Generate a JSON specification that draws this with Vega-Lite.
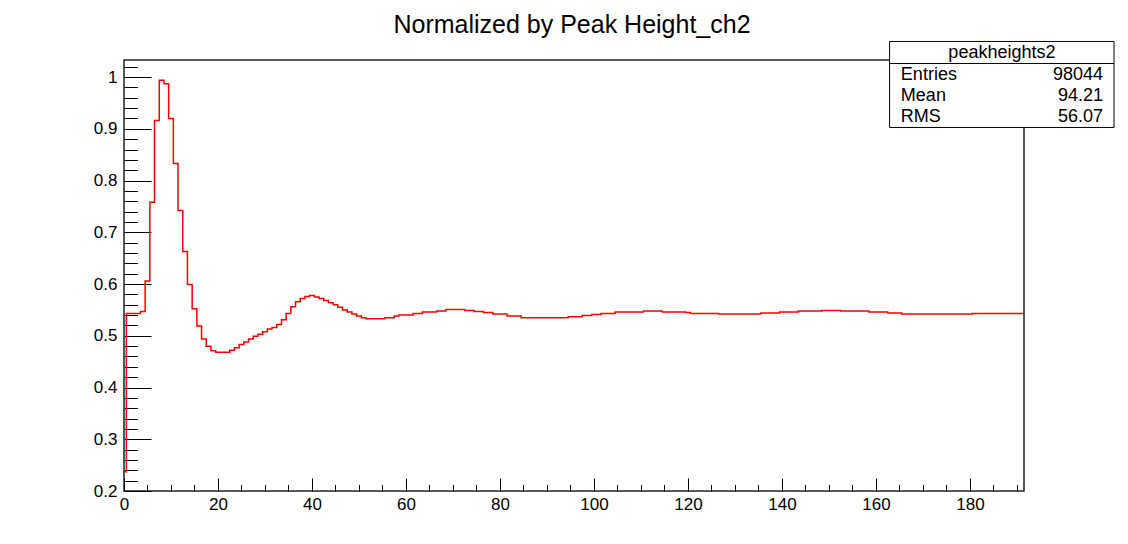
{
  "$schema": "https://vega.github.io/schema/vega-lite/v6.json",
  "width": 900,
  "height": 431,
  "autosize": {"type": "none"},
  "padding": {"left": 124, "top": 60, "right": 104, "bottom": 53},
  "background": "white",
  "config": {
    "view": {"stroke": "#222222", "strokeWidth": 1.5},
    "font": "Liberation Sans",
    "axis": {"grid": false, "domain": false, "labelFlush": false, "labelOverlap": false, "tickColor": "#000000", "tickWidth": 1, "labelFont": "Liberation Sans", "labelColor": "#000000", "labelFontSize": 17, "title": null}
  },
  "title": {"text": "Normalized by Peak Height_ch2", "fontSize": 25, "font": "Liberation Sans", "fontWeight": "normal", "color": "#000000", "anchor": "middle", "offset": 3, "frame": "group", "dx": -2},
  "datasets": {
    "hist": [
      {"lo": -0.5, "v": 0.237}, {"lo": 0.5, "v": 0.543}, {"lo": 1.5, "v": 0.543}, {"lo": 2.5, "v": 0.543}, {"lo": 3.5, "v": 0.547},
      {"lo": 4.5, "v": 0.606}, {"lo": 5.5, "v": 0.758}, {"lo": 6.5, "v": 0.916}, {"lo": 7.5, "v": 0.994}, {"lo": 8.5, "v": 0.987},
      {"lo": 9.5, "v": 0.920}, {"lo": 10.5, "v": 0.833}, {"lo": 11.5, "v": 0.742}, {"lo": 12.5, "v": 0.663}, {"lo": 13.5, "v": 0.599},
      {"lo": 14.5, "v": 0.552}, {"lo": 15.5, "v": 0.519}, {"lo": 16.5, "v": 0.494}, {"lo": 17.5, "v": 0.480}, {"lo": 18.5, "v": 0.471},
      {"lo": 19.5, "v": 0.468}, {"lo": 20.5, "v": 0.468}, {"lo": 21.5, "v": 0.468}, {"lo": 22.5, "v": 0.472}, {"lo": 23.5, "v": 0.477},
      {"lo": 24.5, "v": 0.483}, {"lo": 25.5, "v": 0.488}, {"lo": 26.5, "v": 0.494}, {"lo": 27.5, "v": 0.499}, {"lo": 28.5, "v": 0.503},
      {"lo": 29.5, "v": 0.508}, {"lo": 30.5, "v": 0.513}, {"lo": 31.5, "v": 0.516}, {"lo": 32.5, "v": 0.522}, {"lo": 33.5, "v": 0.531},
      {"lo": 34.5, "v": 0.543}, {"lo": 35.5, "v": 0.556}, {"lo": 36.5, "v": 0.566}, {"lo": 37.5, "v": 0.572}, {"lo": 38.5, "v": 0.576},
      {"lo": 39.5, "v": 0.578}, {"lo": 40.5, "v": 0.575}, {"lo": 41.5, "v": 0.572}, {"lo": 42.5, "v": 0.568}, {"lo": 43.5, "v": 0.564},
      {"lo": 44.5, "v": 0.560}, {"lo": 45.5, "v": 0.555}, {"lo": 46.5, "v": 0.550}, {"lo": 47.5, "v": 0.546}, {"lo": 48.5, "v": 0.542},
      {"lo": 49.5, "v": 0.538}, {"lo": 50.5, "v": 0.535}, {"lo": 51.5, "v": 0.533}, {"lo": 52.5, "v": 0.533}, {"lo": 53.5, "v": 0.533},
      {"lo": 54.5, "v": 0.533}, {"lo": 55.5, "v": 0.535}, {"lo": 56.5, "v": 0.535}, {"lo": 57.5, "v": 0.538}, {"lo": 58.5, "v": 0.540},
      {"lo": 59.5, "v": 0.540}, {"lo": 60.5, "v": 0.540}, {"lo": 61.5, "v": 0.543}, {"lo": 62.5, "v": 0.543}, {"lo": 63.5, "v": 0.546},
      {"lo": 64.5, "v": 0.546}, {"lo": 65.5, "v": 0.546}, {"lo": 66.5, "v": 0.548}, {"lo": 67.5, "v": 0.548}, {"lo": 68.5, "v": 0.551},
      {"lo": 69.5, "v": 0.551}, {"lo": 70.5, "v": 0.551}, {"lo": 71.5, "v": 0.551}, {"lo": 72.5, "v": 0.549}, {"lo": 73.5, "v": 0.549},
      {"lo": 74.5, "v": 0.547}, {"lo": 75.5, "v": 0.547}, {"lo": 76.5, "v": 0.545}, {"lo": 77.5, "v": 0.545}, {"lo": 78.5, "v": 0.542},
      {"lo": 79.5, "v": 0.542}, {"lo": 80.5, "v": 0.542}, {"lo": 81.5, "v": 0.538}, {"lo": 82.5, "v": 0.538}, {"lo": 83.5, "v": 0.538},
      {"lo": 84.5, "v": 0.535}, {"lo": 85.5, "v": 0.535}, {"lo": 86.5, "v": 0.535}, {"lo": 87.5, "v": 0.535}, {"lo": 88.5, "v": 0.535},
      {"lo": 89.5, "v": 0.535}, {"lo": 90.5, "v": 0.535}, {"lo": 91.5, "v": 0.535}, {"lo": 92.5, "v": 0.535}, {"lo": 93.5, "v": 0.535},
      {"lo": 94.5, "v": 0.537}, {"lo": 95.5, "v": 0.537}, {"lo": 96.5, "v": 0.537}, {"lo": 97.5, "v": 0.539}, {"lo": 98.5, "v": 0.539},
      {"lo": 99.5, "v": 0.541}, {"lo": 100.5, "v": 0.541}, {"lo": 101.5, "v": 0.543}, {"lo": 102.5, "v": 0.543}, {"lo": 103.5, "v": 0.543},
      {"lo": 104.5, "v": 0.546}, {"lo": 105.5, "v": 0.546}, {"lo": 106.5, "v": 0.546}, {"lo": 107.5, "v": 0.546}, {"lo": 108.5, "v": 0.546},
      {"lo": 109.5, "v": 0.546}, {"lo": 110.5, "v": 0.548}, {"lo": 111.5, "v": 0.548}, {"lo": 112.5, "v": 0.548}, {"lo": 113.5, "v": 0.548},
      {"lo": 114.5, "v": 0.546}, {"lo": 115.5, "v": 0.546}, {"lo": 116.5, "v": 0.546}, {"lo": 117.5, "v": 0.546}, {"lo": 118.5, "v": 0.546},
      {"lo": 119.5, "v": 0.545}, {"lo": 120.5, "v": 0.543}, {"lo": 121.5, "v": 0.543}, {"lo": 122.5, "v": 0.543}, {"lo": 123.5, "v": 0.543},
      {"lo": 124.5, "v": 0.543}, {"lo": 125.5, "v": 0.543}, {"lo": 126.5, "v": 0.542}, {"lo": 127.5, "v": 0.542}, {"lo": 128.5, "v": 0.542},
      {"lo": 129.5, "v": 0.542}, {"lo": 130.5, "v": 0.542}, {"lo": 131.5, "v": 0.542}, {"lo": 132.5, "v": 0.542}, {"lo": 133.5, "v": 0.542},
      {"lo": 134.5, "v": 0.542}, {"lo": 135.5, "v": 0.544}, {"lo": 136.5, "v": 0.544}, {"lo": 137.5, "v": 0.544}, {"lo": 138.5, "v": 0.544},
      {"lo": 139.5, "v": 0.546}, {"lo": 140.5, "v": 0.546}, {"lo": 141.5, "v": 0.546}, {"lo": 142.5, "v": 0.546}, {"lo": 143.5, "v": 0.548},
      {"lo": 144.5, "v": 0.548}, {"lo": 145.5, "v": 0.548}, {"lo": 146.5, "v": 0.548}, {"lo": 147.5, "v": 0.548}, {"lo": 148.5, "v": 0.549},
      {"lo": 149.5, "v": 0.549}, {"lo": 150.5, "v": 0.549}, {"lo": 151.5, "v": 0.549}, {"lo": 152.5, "v": 0.548}, {"lo": 153.5, "v": 0.548},
      {"lo": 154.5, "v": 0.548}, {"lo": 155.5, "v": 0.548}, {"lo": 156.5, "v": 0.548}, {"lo": 157.5, "v": 0.548}, {"lo": 158.5, "v": 0.546},
      {"lo": 159.5, "v": 0.546}, {"lo": 160.5, "v": 0.546}, {"lo": 161.5, "v": 0.546}, {"lo": 162.5, "v": 0.544}, {"lo": 163.5, "v": 0.544},
      {"lo": 164.5, "v": 0.544}, {"lo": 165.5, "v": 0.542}, {"lo": 166.5, "v": 0.542}, {"lo": 167.5, "v": 0.542}, {"lo": 168.5, "v": 0.542},
      {"lo": 169.5, "v": 0.542}, {"lo": 170.5, "v": 0.542}, {"lo": 171.5, "v": 0.542}, {"lo": 172.5, "v": 0.542}, {"lo": 173.5, "v": 0.542},
      {"lo": 174.5, "v": 0.542}, {"lo": 175.5, "v": 0.542}, {"lo": 176.5, "v": 0.542}, {"lo": 177.5, "v": 0.542}, {"lo": 178.5, "v": 0.542},
      {"lo": 179.5, "v": 0.542}, {"lo": 180.5, "v": 0.543}, {"lo": 181.5, "v": 0.543}, {"lo": 182.5, "v": 0.543}, {"lo": 183.5, "v": 0.543},
      {"lo": 184.5, "v": 0.543}, {"lo": 185.5, "v": 0.543}, {"lo": 186.5, "v": 0.543}, {"lo": 187.5, "v": 0.543}, {"lo": 188.5, "v": 0.543},
      {"lo": 189.5, "v": 0.543}, {"lo": 190.5, "v": 0.543}, {"lo": 191.5, "v": 0.543}
    ],
    "stats": [
      {"stat": "Entries", "value": "98044"},
      {"stat": "Mean", "value": "94.21"},
      {"stat": "RMS", "value": "56.07"}
    ]
  },
  "resolve": {"axis": {"x": "independent", "y": "independent"}},
  "layer": [
    {
      "data": {"name": "hist"},
      "mark": {"type": "line", "interpolate": "step-after", "color": "#ff0000", "strokeWidth": 1.5, "clip": true},
      "encoding": {
        "x": {"field": "lo", "type": "quantitative", "scale": {"domain": [0, 191.5], "nice": false, "zero": false},
              "axis": {"orient": "bottom", "values": [0, 20, 40, 60, 80, 100, 120, 140, 160, 180], "format": "d", "tickSize": -13, "labelPadding": 18}},
        "y": {"field": "v", "type": "quantitative", "scale": {"domain": [0.2, 1.033], "nice": false, "zero": false},
              "axis": {"orient": "left", "values": [0.2, 0.3, 0.4, 0.5, 0.6, 0.7, 0.8, 0.9, 1], "format": "~g", "tickSize": -27, "labelPadding": 34}}
      }
    },
    {
      "data": {"name": "hist"},
      "mark": {"type": "line", "strokeOpacity": 0, "clip": true},
      "encoding": {
        "x": {"field": "lo", "type": "quantitative",
              "axis": {"orient": "bottom", "labels": false, "values": [5, 10, 15, 25, 30, 35, 45, 50, 55, 65, 70, 75, 85, 90, 95, 105, 110, 115, 125, 130, 135, 145, 150, 155, 165, 170, 175, 185, 190], "tickSize": -6.5}},
        "y": {"field": "v", "type": "quantitative",
              "axis": {"orient": "left", "labels": false, "values": [0.22, 0.24, 0.26, 0.28, 0.32, 0.34, 0.36, 0.38, 0.42, 0.44, 0.46, 0.48, 0.52, 0.54, 0.56, 0.58, 0.62, 0.64, 0.66, 0.68, 0.72, 0.74, 0.76, 0.78, 0.82, 0.84, 0.86, 0.88, 0.92, 0.94, 0.96, 0.98, 1.02], "tickSize": -13.5}}
      }
    },
    {
      "data": {"values": [{"box": "peakheights2"}]},
      "mark": {"type": "rect", "fill": "#ffffff", "stroke": "#000000", "strokeWidth": 1},
      "encoding": {
        "x": {"datum": 162.9, "type": "quantitative", "axis": null},
        "x2": {"datum": 210.65},
        "y": {"datum": 1.0688, "type": "quantitative", "axis": null},
        "y2": {"datum": 0.9026}
      }
    },
    {
      "data": {"values": [{"box": "peakheights2"}]},
      "mark": {"type": "rule", "stroke": "#000000", "strokeWidth": 1},
      "encoding": {
        "x": {"datum": 162.9, "type": "quantitative", "axis": null},
        "x2": {"datum": 210.65},
        "y": {"datum": 1.0262, "type": "quantitative", "axis": null}
      }
    },
    {
      "data": {"values": [{"box": "peakheights2"}]},
      "mark": {"type": "text", "align": "center", "baseline": "alphabetic", "fontSize": 18, "font": "Liberation Sans", "color": "#000000"},
      "encoding": {
        "x": {"datum": 186.8, "type": "quantitative", "axis": null},
        "y": {"datum": 1.0369, "type": "quantitative", "axis": null},
        "text": {"field": "box"}
      }
    },
    {
      "data": {"name": "stats"},
      "transform": [{"filter": "datum.stat === 'Entries'"}],
      "mark": {"type": "text", "align": "left", "baseline": "alphabetic", "fontSize": 18, "font": "Liberation Sans", "color": "#000000"},
      "encoding": {"x": {"datum": 165.3, "type": "quantitative", "axis": null}, "y": {"datum": 0.9944, "type": "quantitative", "axis": null}, "text": {"field": "stat"}}
    },
    {
      "data": {"name": "stats"},
      "transform": [{"filter": "datum.stat === 'Entries'"}],
      "mark": {"type": "text", "align": "right", "baseline": "alphabetic", "fontSize": 18, "font": "Liberation Sans", "color": "#000000"},
      "encoding": {"x": {"datum": 208.3, "type": "quantitative", "axis": null}, "y": {"datum": 0.9944, "type": "quantitative", "axis": null}, "text": {"field": "value"}}
    },
    {
      "data": {"name": "stats"},
      "transform": [{"filter": "datum.stat === 'Mean'"}],
      "mark": {"type": "text", "align": "left", "baseline": "alphabetic", "fontSize": 18, "font": "Liberation Sans", "color": "#000000"},
      "encoding": {"x": {"datum": 165.3, "type": "quantitative", "axis": null}, "y": {"datum": 0.9538, "type": "quantitative", "axis": null}, "text": {"field": "stat"}}
    },
    {
      "data": {"name": "stats"},
      "transform": [{"filter": "datum.stat === 'Mean'"}],
      "mark": {"type": "text", "align": "right", "baseline": "alphabetic", "fontSize": 18, "font": "Liberation Sans", "color": "#000000"},
      "encoding": {"x": {"datum": 208.3, "type": "quantitative", "axis": null}, "y": {"datum": 0.9538, "type": "quantitative", "axis": null}, "text": {"field": "value"}}
    },
    {
      "data": {"name": "stats"},
      "transform": [{"filter": "datum.stat === 'RMS'"}],
      "mark": {"type": "text", "align": "left", "baseline": "alphabetic", "fontSize": 18, "font": "Liberation Sans", "color": "#000000"},
      "encoding": {"x": {"datum": 165.3, "type": "quantitative", "axis": null}, "y": {"datum": 0.9132, "type": "quantitative", "axis": null}, "text": {"field": "stat"}}
    },
    {
      "data": {"name": "stats"},
      "transform": [{"filter": "datum.stat === 'RMS'"}],
      "mark": {"type": "text", "align": "right", "baseline": "alphabetic", "fontSize": 18, "font": "Liberation Sans", "color": "#000000"},
      "encoding": {"x": {"datum": 208.3, "type": "quantitative", "axis": null}, "y": {"datum": 0.9132, "type": "quantitative", "axis": null}, "text": {"field": "value"}}
    }
  ]
}
